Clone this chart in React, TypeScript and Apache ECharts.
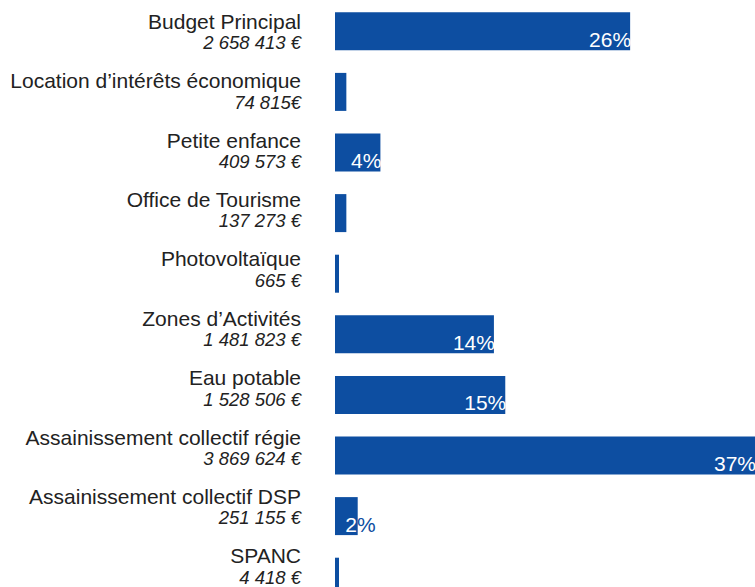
import React, { useEffect, useRef } from "react";
import * as echarts from "echarts";

const categories = [
  "Budget Principal",
  "Location d’intérêts économique",
  "Petite enfance",
  "Office de Tourisme",
  "Photovoltaïque",
  "Zones d’Activités",
  "Eau potable",
  "Assainissement collectif régie",
  "Assainissement collectif DSP",
  "SPANC",
];

const amounts = [
  "2 658 413 €",
  "74 815€",
  "409 573 €",
  "137 273 €",
  "665 €",
  "1 481 823 €",
  "1 528 506 €",
  "3 869 624 €",
  "251 155 €",
  "4 418 €",
];

const percents = [26, 1, 4, 1, 0, 14, 15, 37, 2, 0];

const BLUE = "#0d4ea1";
const FONT = "'Liberation Sans', Arial, sans-serif";

export default function App() {
  const ref = useRef<HTMLDivElement>(null);

  useEffect(() => {
    if (!ref.current) return;
    const chart = echarts.init(ref.current, undefined, { renderer: "svg" });

    const data = percents.map((v) => {
      if (v === 2) {
        return {
          value: v,
          label: {
            formatter: "{w|" + v + "}{b|%}",
            offset: [18, 8],
            rich: {
              w: { color: "#ffffff", fontSize: 21, fontFamily: FONT },
              b: { color: BLUE, fontSize: 21, fontFamily: FONT },
            },
          },
        };
      }
      return { value: v };
    });

    chart.setOption({
      animation: false,
      grid: [
        { left: 335, right: 0, top: 1, height: 606 },
        { left: 335, right: 0, top: 2, height: 594 },
      ],
      xAxis: [
        { type: "value", gridIndex: 0, min: 0, max: 37, show: false, splitLine: { show: false } },
        { type: "value", gridIndex: 1, min: 0, max: 37, show: false, splitLine: { show: false } },
      ],
      yAxis: [
        {
          type: "category",
          gridIndex: 0,
          inverse: true,
          data: categories,
          axisLine: { show: false },
          axisTick: { show: false },
          axisLabel: { show: false },
          splitLine: { show: false },
        },
        {
          type: "category",
          gridIndex: 1,
          inverse: true,
          data: categories,
          axisLine: { show: false },
          axisTick: { show: false },
          splitLine: { show: false },
          axisLabel: {
            margin: 34,
            align: "right",
            formatter: (name: string) => {
              const i = categories.indexOf(name);
              return "{n|" + name + "}\n{v|" + amounts[i] + "}";
            },
            rich: {
              n: {
                fontSize: 21,
                fontFamily: FONT,
                color: "#222222",
                lineHeight: 22,
                align: "right",
              },
              v: {
                fontSize: 18.5,
                fontStyle: "italic",
                fontFamily: FONT,
                color: "#222222",
                lineHeight: 21,
                align: "right",
              },
            },
          },
        },
      ],
      series: [
        {
          type: "bar",
          xAxisIndex: 0,
          yAxisIndex: 0,
          data,
          barWidth: 38,
          barMinHeight: 4,
          itemStyle: { color: BLUE },
          label: {
            show: true,
            position: "insideRight",
            distance: 0,
            offset: [1, 8],
            color: "#ffffff",
            fontSize: 21,
            fontFamily: FONT,
            formatter: (p: any) => (p.value >= 2 ? p.value + "%" : ""),
          },
        },
      ],
    });

    return () => chart.dispose();
  }, []);

  return (
    <div
      ref={ref}
      style={{ position: "absolute", left: 0, top: 0, width: 755, height: 607 }}
    />
  );
}
